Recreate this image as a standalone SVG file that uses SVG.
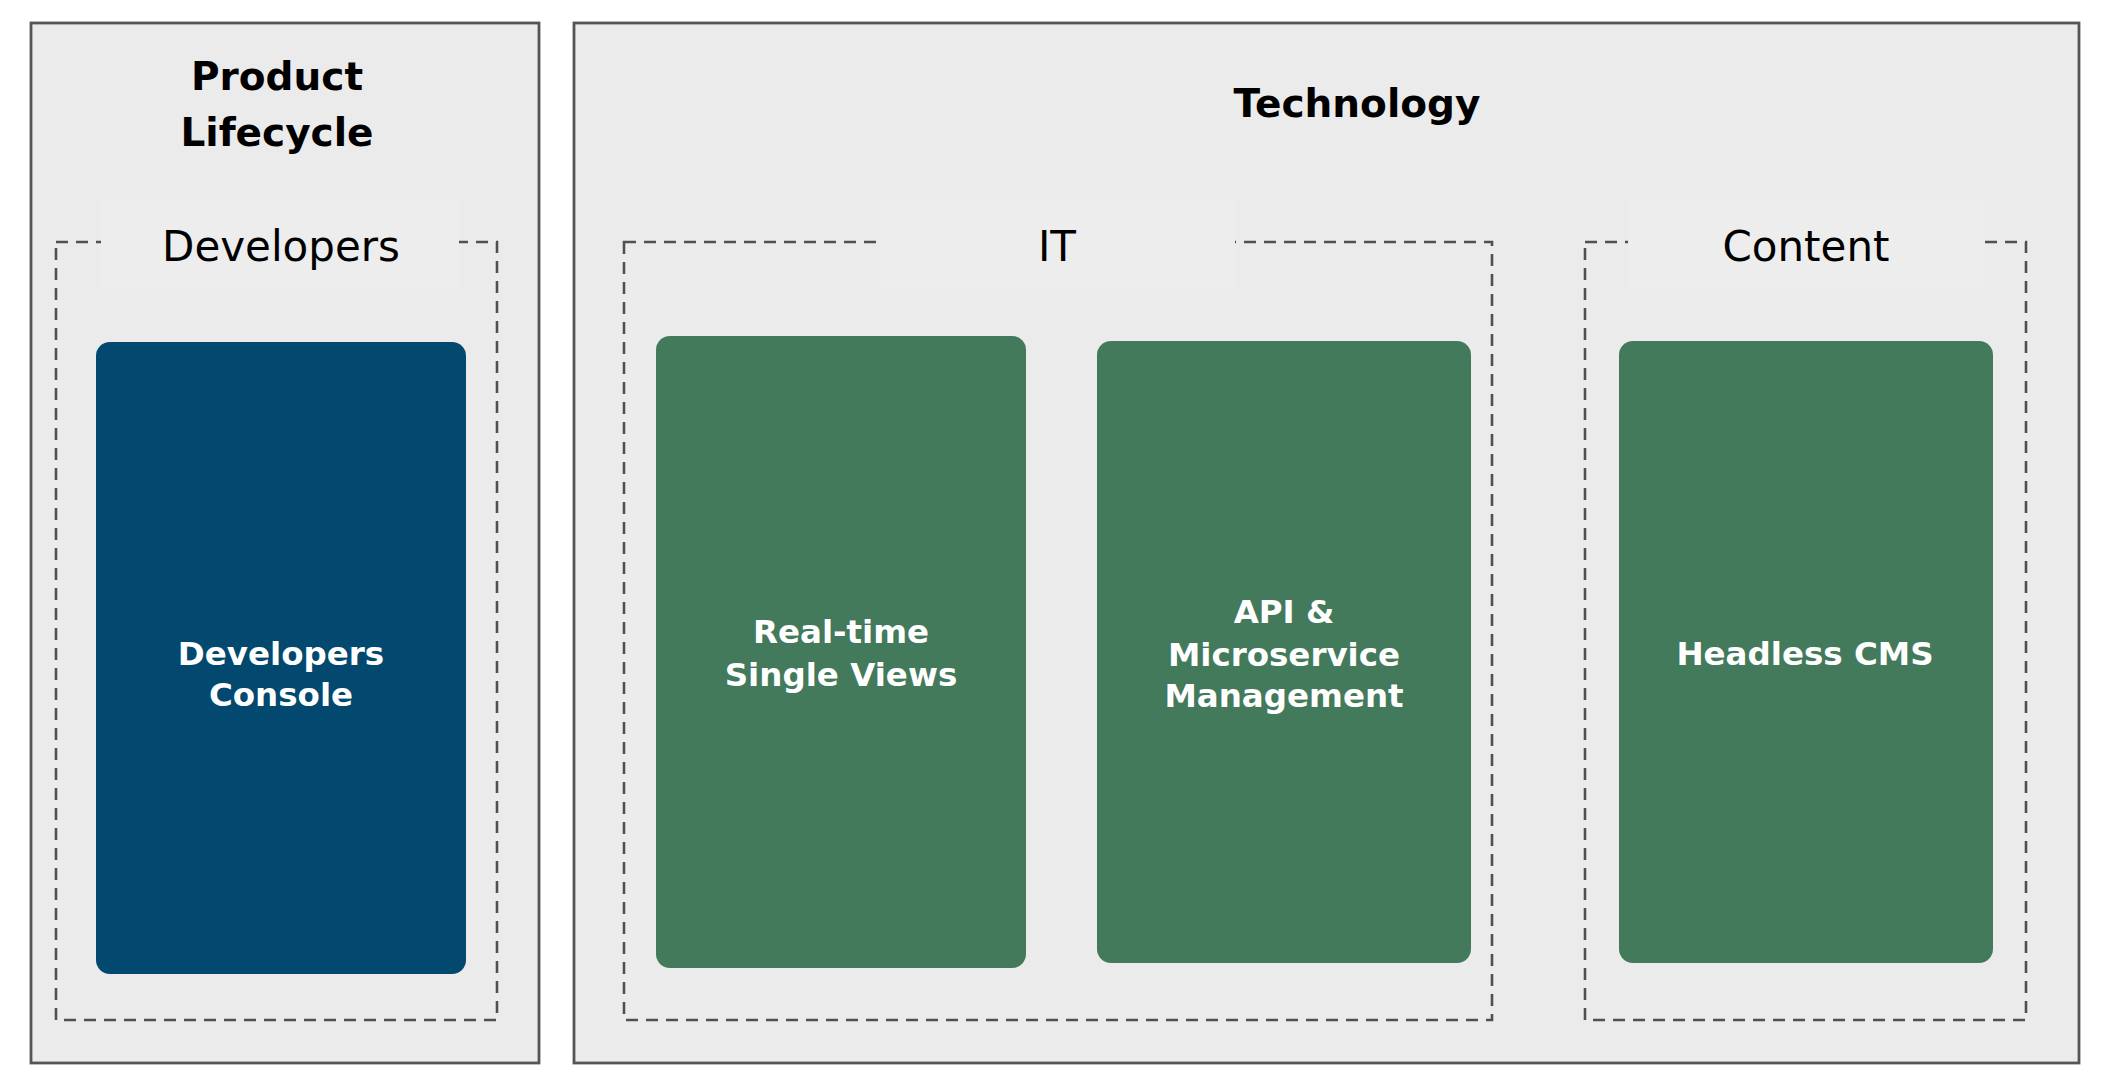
<svg xmlns="http://www.w3.org/2000/svg" width="2104" height="1082" viewBox="0 0 2104 1082">
<style>
.panel{fill:#ebebeb;stroke:#555555;stroke-width:2.8}
.dash{fill:none;stroke:#505050;stroke-width:2.6;stroke-dasharray:12 8}
.lblbg{fill:#ededed}
.title{font-family:"DejaVu Sans",sans-serif;font-weight:bold;font-size:39px;fill:#000;text-anchor:middle}
.lbl{font-family:"DejaVu Sans",sans-serif;font-size:42px;fill:#000;text-anchor:middle}
.node{font-family:"DejaVu Sans",sans-serif;font-weight:bold;font-size:32.5px;fill:#ffffff;text-anchor:middle}
.blue{fill:#02486f}
.green{fill:#437a5b}
</style>
<rect width="2104" height="1082" fill="#ffffff"/>
<g id="product-lifecycle">
<rect class="panel" x="31" y="23" width="508" height="1040"/>
<text class="title" x="277" y="90">Product</text>
<text class="title" x="277" y="146">Lifecycle</text>
</g>
<g id="technology">
<rect class="panel" x="574" y="23" width="1505" height="1040"/>
<text class="title" x="1357" y="117">Technology</text>
</g>
<g id="developers-group">
<rect class="dash" x="56" y="242" width="441" height="778"/>
<rect class="lblbg" x="101" y="199" width="358" height="88"/>
<text class="lbl" x="281" y="261">Developers</text>
</g>
<g id="it-group">
<rect class="dash" x="624" y="242" width="868" height="778"/>
<rect class="lblbg" x="879" y="199" width="356" height="88"/>
<text class="lbl" x="1057" y="261">IT</text>
</g>
<g id="content-group">
<rect class="dash" x="1585" y="242" width="441" height="778"/>
<rect class="lblbg" x="1628" y="199" width="355" height="88"/>
<text class="lbl" x="1806" y="261">Content</text>
</g>
<g id="developers-console">
<rect class="blue" x="96" y="342" width="370" height="632" rx="14"/>
<text class="node" x="281" y="665">Developers</text>
<text class="node" x="281" y="706">Console</text>
</g>
<g id="real-time-single-views">
<rect class="green" x="656" y="336" width="370" height="632" rx="14"/>
<text class="node" x="841" y="643">Real-time</text>
<text class="node" x="841" y="686">Single Views</text>
</g>
<g id="api-microservice-management">
<rect class="green" x="1097" y="341" width="374" height="622" rx="14"/>
<text class="node" x="1284" y="623">API &amp;</text>
<text class="node" x="1284" y="666">Microservice</text>
<text class="node" x="1284" y="707">Management</text>
</g>
<g id="headless-cms">
<rect class="green" x="1619" y="341" width="374" height="622" rx="14"/>
<text class="node" x="1805" y="665">Headless CMS</text>
</g>
<g id="connectors"></g>
</svg>
